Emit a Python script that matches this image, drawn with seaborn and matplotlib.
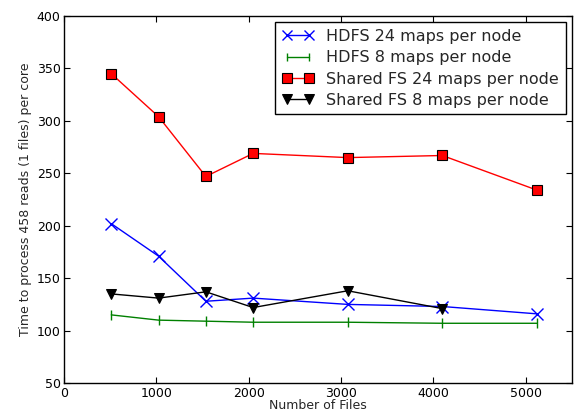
import matplotlib
matplotlib.use("Agg")
import matplotlib.pyplot as plt
import seaborn as sns
import pandas as pd

files = [512, 1024, 1536, 2048, 3072, 4096, 5120]
hdfs24 = [202, 171, 128, 131, 125, 123, 116]
hdfs8 = [115, 110, 109, 108, 108, 107, 107]
shared24 = [345, 304, 247, 269, 265, 267, 234]
shared8 = [135, 131, 137, 122, 138, 121]
labels = ["HDFS 24 maps per node", "HDFS 8 maps per node",
          "Shared FS 24 maps per node", "Shared FS 8 maps per node"]

sns.set_theme(style="ticks")
plt.rcParams['font.family'] = ['DejaVu Sans']

fig = plt.figure(figsize=(5.74, 4.11), dpi=100)
ax = fig.add_axes([0.1115, 0.068, 0.885, 0.893])

series = [
    (files, hdfs24, labels[0], dict(color="blue", marker="x", markersize=8, markeredgecolor="blue", markeredgewidth=1.0)),
    (files, hdfs8, labels[1], dict(color="green", marker="|", markersize=7, markeredgecolor="green", markeredgewidth=1.0)),
    (files, shared24, labels[2], dict(color="red", marker="s", markersize=7.5, markerfacecolor="red", markeredgecolor="black", markeredgewidth=0.8)),
    (files[:len(shared8)], shared8, labels[3], dict(color="black", marker="v", markersize=7.5, markerfacecolor="black", markeredgecolor="black")),
]
for xs, ys, lab, kw in series:
    df = pd.DataFrame({"x": xs, "y": ys})
    sns.lineplot(data=df, x="x", y="y", ax=ax, label=lab, linewidth=1.0, **kw)

ax.set_xlim(0, 5500)
ax.set_ylim(50, 400)
ax.set_xticks([0, 1000, 2000, 3000, 4000, 5000])
ax.set_yticks([50, 100, 150, 200, 250, 300, 350, 400])
ax.tick_params(direction="in", length=4, width=0.8, labelsize=9, pad=2.5, top=True, right=True, colors="black")
for s in ax.spines.values():
    s.set_visible(True)
    s.set_color("black")
    s.set_linewidth(1.0)
ax.set_xlabel("Number of Files", fontsize=9, labelpad=-0.5)
ax.set_ylabel("Time to process 458 reads (1 files) per core", fontsize=9, labelpad=3)
leg = ax.legend(loc="upper right", fontsize=11.5, frameon=True, fancybox=False,
                edgecolor="black", framealpha=1, borderpad=0.4, labelspacing=0.4,
                handlelength=2.0, handletextpad=0.8, numpoints=2, borderaxespad=0.4,
                markerscale=0.9)
leg.get_frame().set_linewidth(1.0)
fig.savefig("out.png", dpi=100)
